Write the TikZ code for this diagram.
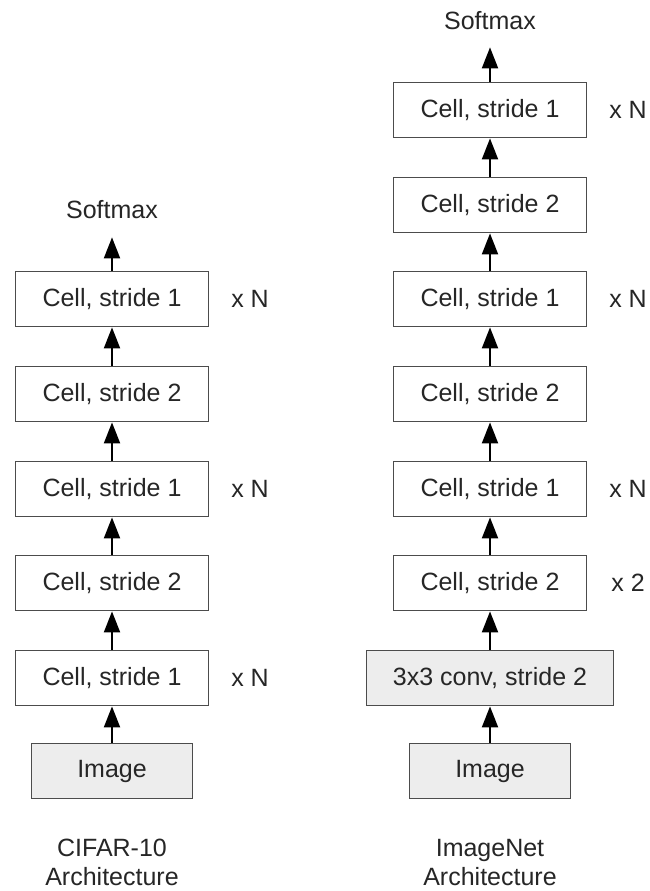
\documentclass[tikz,border=0pt]{standalone}
\usepackage{fontspec}
\setmainfont{Liberation Sans}
\usetikzlibrary{arrows.meta}
\begin{document}
\begin{tikzpicture}[x=1pt,y=-1pt,
  txt/.style={font=\fontsize{25}{29}\selectfont, text=black!85},
  block/.style={txt, draw=black!70, line width=1.8pt, fill=white,
    minimum width=193pt, minimum height=55pt, inner sep=0pt},
  inblock/.style={block, fill=black!7},
  lbl/.style={txt, inner sep=0pt},
  flow/.style={-{Triangle[width=16pt,length=21pt]}, line width=2pt, black}]
\useasboundingbox (0,0) rectangle (649,891);
\fill[white] (0,0) rectangle (649,891);

% CIFAR-10 stack
\node[inblock, minimum width=161pt] (Limg) at (112,771) {Image};
\node[block] (L1) at (112,678) {Cell, stride 1};
\node[block] (L2) at (112,583) {Cell, stride 2};
\node[block] (L3) at (112,489) {Cell, stride 1};
\node[block] (L4) at (112,394) {Cell, stride 2};
\node[block] (L5) at (112,299) {Cell, stride 1};
\node[lbl] (Lsm) at (112,210) {Softmax};
\node[lbl] (Ln1) at (250,678) {x N};
\node[lbl] (Ln3) at (250,489) {x N};
\node[lbl] (Ln5) at (250,299) {x N};
\node[lbl, anchor=north, align=center] (Lcap) at (112,839) {CIFAR-10\\Architecture};

\draw[flow] (Limg) -- (L1);
\draw[flow] (L1) -- (L2);
\draw[flow] (L2) -- (L3);
\draw[flow] (L3) -- (L4);
\draw[flow] (L4) -- (L5);
\draw[flow, shorten >=18pt] (L5) -- (Lsm);

% ImageNet stack
\node[inblock, minimum width=161pt] (Rimg) at (490,771) {Image};
\node[inblock, minimum width=247pt] (Rconv) at (490,678) {3x3 conv, stride 2};
\node[block] (R1) at (490,583) {Cell, stride 2};
\node[block] (R2) at (490,489) {Cell, stride 1};
\node[block] (R3) at (490,394) {Cell, stride 2};
\node[block] (R4) at (490,299) {Cell, stride 1};
\node[block] (R5) at (490,205) {Cell, stride 2};
\node[block] (R6) at (490,110) {Cell, stride 1};
\node[lbl] (Rsm) at (490,21) {Softmax};
\node[lbl] (Rn1) at (628,583) {x 2};
\node[lbl] (Rn2) at (628,489) {x N};
\node[lbl] (Rn4) at (628,299) {x N};
\node[lbl] (Rn6) at (628,110) {x N};
\node[lbl, anchor=north, align=center] (Rcap) at (490,839) {ImageNet\\Architecture};

\draw[flow] (Rimg) -- (Rconv);
\draw[flow] (Rconv) -- (R1);
\draw[flow] (R1) -- (R2);
\draw[flow] (R2) -- (R3);
\draw[flow] (R3) -- (R4);
\draw[flow] (R4) -- (R5);
\draw[flow] (R5) -- (R6);
\draw[flow, shorten >=17pt] (R6) -- (Rsm);
\end{tikzpicture}
\end{document}
